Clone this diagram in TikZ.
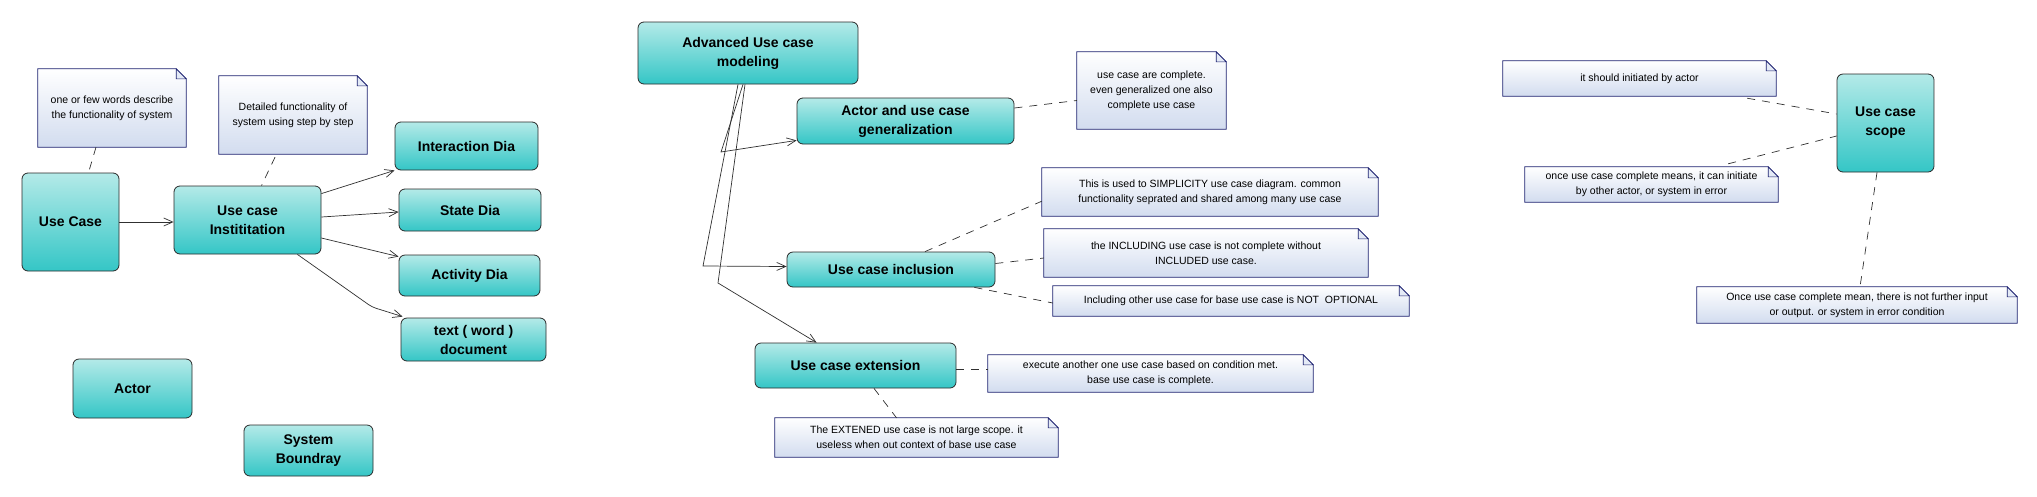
\documentclass[tikz,border=0pt]{standalone}
\usepackage{fontspec}
\setmainfont{Liberation Sans}
\usetikzlibrary{arrows.meta,calc}
\pgfdeclarelayer{bgzero}
\pgfdeclarelayer{bgone}
\pgfsetlayers{bgzero,bgone,main}
\definecolor{boxtop}{HTML}{B4EAE8}
\definecolor{boxbot}{HTML}{34C6C6}
\definecolor{boxline}{HTML}{2A2A2A}
\definecolor{noteline}{HTML}{1C2170}
\definecolor{notebot}{HTML}{D2DCEF}
\definecolor{notefold}{HTML}{E4EAF6}
\definecolor{linegray}{HTML}{303030}
\tikzset{
 ucbox/.style={draw=boxline, line width=0.8pt, rounded corners=6pt, top color=boxtop, bottom color=boxbot, align=center, inner sep=0pt, font=\bfseries\fontsize{14}{19}\selectfont},
 notebox/.style={align=center, inner sep=0pt, font=\fontsize{10.5}{15}\selectfont},
 arr/.style={draw=linegray, line width=0.7pt, -{Straight Barb[length=9pt,width=8pt]}},
 dsh/.style={draw=linegray, line width=0.7pt, dash pattern=on 8pt off 7pt},
}
\newcommand\notedeco[1]{%
 \begin{pgfonlayer}{bgone}
 \path[top color=white, bottom color=notebot, draw=noteline, line width=0.8pt] (#1.north west) -- ([xshift=-10pt]#1.north east) -- ([yshift=-10pt]#1.north east) -- (#1.south east) -- (#1.south west) -- cycle;
 \path[draw=noteline, line width=0.6pt, fill=notefold] ([xshift=-10pt]#1.north east) -- ([xshift=-10pt,yshift=-10pt]#1.north east) -- ([yshift=-10pt]#1.north east) -- cycle;
 \end{pgfonlayer}}
\begin{document}
\begin{tikzpicture}[x=1pt,y=-1pt]
\begin{pgfonlayer}{bgzero}
\fill[white] (0,0) rectangle (2037,496);
\end{pgfonlayer}
\useasboundingbox (0,0) rectangle (2037,496);

% boxes
\node[ucbox, minimum width=97pt, minimum height=98pt] (uc) at (70.5,222) {Use Case};
\node[ucbox, minimum width=147pt, minimum height=68pt] (inst) at (247.5,220) {Use case\\Instititation};
\node[ucbox, minimum width=143pt, minimum height=48pt] (inter) at (466.5,146) {Interaction Dia};
\node[ucbox, minimum width=142pt, minimum height=42pt] (state) at (470,210) {State Dia};
\node[ucbox, minimum width=141pt, minimum height=41pt] (act) at (469.5,275.5) {Activity Dia};
\node[ucbox, minimum width=145pt, minimum height=43pt] (txt) at (473.5,339.5) {text ( word )\\document};
\node[ucbox, minimum width=119pt, minimum height=59pt] (actor) at (132.5,388.5) {Actor};
\node[ucbox, minimum width=129pt, minimum height=51pt] (sysb) at (308.5,450.5) {System\\Boundray};
\node[ucbox, minimum width=220pt, minimum height=62pt] (adv) at (748,53) {Advanced Use case\\modeling};
\node[ucbox, minimum width=217pt, minimum height=46pt] (gen) at (905.5,121) {Actor and use case\\generalization};
\node[ucbox, minimum width=208pt, minimum height=35pt] (incl) at (891,269.5) {Use case inclusion};
\node[ucbox, minimum width=201pt, minimum height=45pt] (ext) at (855.5,365.5) {Use case extension};
\node[ucbox, minimum width=97pt, minimum height=98pt] (scope) at (1885.5,123) {Use case\\scope};

% notes
\node[notebox, minimum width=148pt, minimum height=78pt] (n1) at (112,108) {one or few words describe\\the functionality of system};
\node[notebox, minimum width=148pt, minimum height=78pt] (n2) at (293,115) {Detailed functionality of\\system using step by step};
\node[notebox, minimum width=149pt, minimum height=77pt] (n3) at (1151.5,90.5) {use case are complete.\\even generalized one also\\complete use case};
\node[notebox, minimum width=336pt, minimum height=48pt] (n4) at (1210,192) {This is used to SIMPLICITY use case diagram. common\\functionality seprated and shared among many use case};
\node[notebox, minimum width=324pt, minimum height=48pt] (n5) at (1206,253) {the INCLUDING use case is not complete without\\INCLUDED use case.};
\node[notebox, minimum width=356pt, minimum height=30pt] (n6) at (1231,301) {Including other use case for base use case is NOT\ \ OPTIONAL};
\node[notebox, minimum width=325pt, minimum height=37pt] (n7) at (1150.5,373.5) {execute another one use case based on condition met.\\base use case is complete.};
\node[notebox, minimum width=283pt, minimum height=39pt] (n8) at (916.5,437.5) {The EXTENED use case is not large scope. it\\useless when out context of base use case};
\node[notebox, minimum width=273pt, minimum height=35pt] (n9) at (1639.5,78.5) {it should initiated by actor};
\node[notebox, minimum width=253pt, minimum height=35pt] (n10) at (1651.5,184.5) {once use case complete means, it can initiate\\by other actor, or system in error};
\node[notebox, minimum width=320pt, minimum height=36pt] (n11) at (1857,305) {Once use case complete mean, there is not further input\\or output. or system in error condition};
\foreach \n in {n1,n2,n3,n4,n5,n6,n7,n8,n9,n10,n11} {\notedeco{\n}}

% arrows
\draw[arr] (uc.east) -- (uc.east -| inst.west);
\draw[arr] ($(inst.north east)+(0,8)$) -- (inter.south west);
\draw[arr] ($(inst.east)+(0,-3)$) -- ($(state.west)+(0,2)$);
\draw[arr] ($(inst.east)+(0,18)$) -- ($(act.north west)+(0,2)$);
\coordinate (bt) at (372,307);
\draw[arr, rounded corners=4pt] ($(inst.south east)+(-24,0)$) -- (bt) -- ($(txt.north west)+(2,-1)$);
\coordinate (bg) at (721,152);
\coordinate (bi) at (703,266);
\coordinate (be) at (718,283);
\draw[arr] ($(adv.south)+(-5,0)$) -- (bg) -- ($(gen.south west)+(0,-4)$);
\draw[arr] ($(adv.south)+(-10,0)$) -- (bi) -- ($(incl.west)+(0,-3)$);
\draw[arr] ($(adv.south)+(-3,0)$) -- (be) -- ($(ext.north west)+(62,0)$);

% dashed note links
\draw[dsh] ($(n1.south)+(-16,0)$) -- ($(uc.north)+(18,0)$);
\draw[dsh] ($(n2.south)+(-18,3)$) -- ($(inst.north)+(14,0)$);
\draw[dsh] ($(gen.east)+(0,-13)$) -- ($(n3.west)+(0,10)$);
\draw[dsh] ($(incl.north)+(34,0)$) -- ($(n4.south west)+(0,-15)$);
\draw[dsh] ($(incl.east)+(0,-6)$) -- ($(n5.west)+(0,5)$);
\draw[dsh] ($(incl.south east)+(-21,0)$) -- ($(n6.west)+(0,2)$);
\draw[dsh] ($(ext.east)+(0,3.5)$) -- ($(n7.west)+(0,-4.5)$);
\draw[dsh] ($(ext.south)+(18.5,0)$) -- ($(n8.north)+(-20,0)$);
\draw[dsh] ($(n9.south east)+(-29,2)$) -- ($(scope.west)+(0,-9)$);
\draw[dsh] ($(n10.north east)+(-50,-3)$) -- ($(scope.west)+(0,13)$);
\draw[dsh] ($(scope.south)+(-8.5,0)$) -- ($(n11.north)+(3,0)$);
\end{tikzpicture}
\end{document}
